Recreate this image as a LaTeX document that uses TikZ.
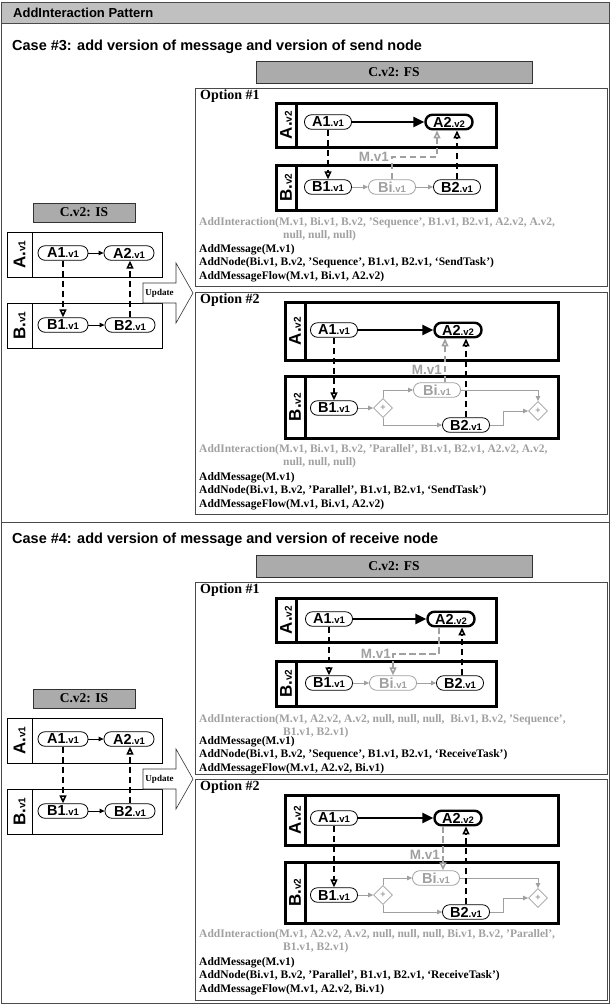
\documentclass[tikz,border=0pt]{standalone}
\usepackage{fontspec}
\setmainfont{Liberation Serif}
\setsansfont{Liberation Sans}
\usetikzlibrary{arrows.meta,positioning,calc,shapes.geometric}
\definecolor{hdrgrey}{HTML}{C0C0C0}
\definecolor{titlegrey}{HTML}{ABABAB}
\definecolor{fggrey}{HTML}{A0A0A0}
\definecolor{rulegrey}{HTML}{4A4A4A}
\tikzset{
  task/.style={draw, rounded corners=7pt, line width=0.8pt, fill=white,
               minimum width=47pt, minimum height=14.5pt, inner sep=0pt,
               font=\sffamily\bfseries\fontsize{14.5}{14.5}\selectfont},
  istask/.style={task, minimum width=50pt},
  newtask/.style={task, line width=2.4pt},
  greytask/.style={task, draw=fggrey, text=fggrey},
  gate/.style={diamond, draw=fggrey, line width=0.8pt, fill=white,
               minimum width=19pt, minimum height=19pt, inner sep=0pt,
               text=fggrey, font=\sffamily\bfseries\small},
  seqflow/.style={-{Triangle[length=5pt,width=4.5pt]}, line width=0.8pt},
  greyseq/.style={seqflow, draw=fggrey},
  bigflow/.style={-{Triangle[length=11pt,width=10pt]}, line width=2.6pt},
  msgflow/.style={-{Triangle[length=8pt,width=7pt,fill=white]},
                  line width=1.6pt, dash pattern=on 6.5pt off 3.5pt},
  greymsg/.style={msgflow, draw=fggrey},
  pool/.style={line width=3pt},
  ispool/.style={line width=0.8pt},
  lanelbl/.style={rotate=90, inner sep=0pt, font=\sffamily\bfseries},
  optbox/.style={draw=rulegrey, line width=0.8pt},
  optlbl/.style={anchor=north west, inner sep=0pt,
                 font=\bfseries\fontsize{14}{14}\selectfont},
  titlebox/.style={draw=black!80, line width=0.8pt, fill=titlegrey,
                   font=\bfseries\fontsize{13.5}{13.5}\selectfont},
  ops/.style={anchor=base west, align=left, inner sep=0pt,
              font=\bfseries\fontsize{11.5}{13.5}\selectfont},
  mlbl/.style={anchor=east, inner sep=0pt, text=fggrey,
               font=\sffamily\bfseries\fontsize{13.5}{13.5}\selectfont},
  casetitle/.style={anchor=west, inner sep=0pt,
                    font=\sffamily\bfseries\fontsize{14.5}{14.5}\selectfont},
  updarrow/.style={draw=black!80, line width=0.6pt, fill=white},
  updlbl/.style={inner sep=0pt, font=\bfseries\fontsize{9}{9}\selectfont},
}
\newcommand{\tv}[2]{#1{\fontsize{9.5}{9.5}\selectfont.#2}}
\newcommand{\lane}[2]{{\fontsize{17}{17}\selectfont #1.}{\fontsize{10}{10}\selectfont #2}}

% initial state, drawn once per case
\newcommand{\ispanel}{%
  \node[titlebox, minimum width=102pt, minimum height=19pt] (is) at (84,212.5) {C.v2: IS};
  \draw[ispool] (7,232) rectangle (162,277) (32,232) -- (32,277);
  \draw[ispool] (7,303) rectangle (162,348) (32,303) -- (32,348);
  \node[lanelbl] (la) at (19.5,254.5) {\lane{A}{v1}};
  \node[lanelbl] (lb) at (19.5,325.5) {\lane{B}{v1}};
  \node[istask] (a1) at (63,253) {\tv{A1}{v1}};
  \node[istask] (a2) at (129,253) {\tv{A2}{v1}};
  \node[istask] (b1) at (63,325) {\tv{B1}{v1}};
  \node[istask] (b2) at (130,325) {\tv{B2}{v1}};
  \draw[seqflow] (a1) -- (a2);
  \draw[seqflow] (b1) -- (b2);
  \draw[msgflow] (a1.south) -- (a1.south |- b1.north);
  \draw[msgflow] (b2.north) -- (b2.north |- a2.south);
  \draw[updarrow] (143,283) -- (176,283) -- (176,263) -- (193,293)
                  -- (176,323) -- (176,303) -- (143,303) -- cycle;
  \node[updlbl] (upd) at (159.5,293) {Update};
}

\begin{document}
\begin{tikzpicture}[x=1pt, y=-1pt]
\useasboundingbox (0,0) rectangle (610,1005);

% ------------------------- frame ----------------------------------------
\fill[hdrgrey] (1,2) rectangle (609,23);
\draw[rulegrey, line width=0.8pt] (1,2) rectangle (609,1003);
\draw[rulegrey, line width=0.8pt] (1,23) -- (609,23);
\draw[rulegrey, line width=0.8pt] (1,522) -- (609,522);
\node[casetitle, font=\sffamily\bfseries\fontsize{13}{13}\selectfont] (pat) at (13,12.5)
   {AddInteraction Pattern};

% ========================= case #3 ======================================
\node[casetitle] (case3) at (12,47) {Case \#3: add version of message and version of send node};
\node[titlebox, minimum width=276pt, minimum height=22pt] (fs3) at (394,72) {C.v2: FS};
\begin{scope}[name prefix=c3-]
\ispanel
\end{scope}

% ------------------------- option #1 ------------------------------------
\draw[optbox] (195,88) rectangle (607,286);
\node[optlbl] (opt31) at (200,89.5) {Option \#1};
\draw[pool] (276,103) rectangle (496,147) (296,103) -- (296,147);
\draw[pool] (276,165) rectangle (496,210) (296,165) -- (296,210);
\node[lanelbl] (la31) at (286,125) {\lane{A}{v2}};
\node[lanelbl] (lb31) at (286,187.5) {\lane{B}{v2}};
\node[task] (a31) at (328,122) {\tv{A1}{v1}};
\node[newtask] (a32) at (449,122) {\tv{A2}{v2}};
\node[task] (b31) at (328,187) {\tv{B1}{v1}};
\node[greytask] (bi3) at (392,187) {\tv{Bi}{v1}};
\node[task] (b32) at (457,187) {\tv{B2}{v1}};
\draw[bigflow] (a31) -- (a32);
\draw[greyseq] (b31) -- (bi3);
\draw[greyseq] (bi3) -- (b32);
\draw[msgflow] (a31) -- (b31);
\draw[msgflow] (b32.north) -- (b32.north |- a32.south);
\coordinate (m31) at (437,157);
\draw[greymsg] (bi3.north) |- (m31) -- (m31 |- a32.south);
\node[mlbl] (ml31) at (389,157) {M.v1};
\node[ops, text=fggrey] (in31) at (199,238.5)
   {AddInteraction(M.v1, Bi.v1, B.v2, 'Sequence', B1.v1, B2.v1, A2.v2, A.v2,\\
    \hspace*{84pt}null, null, null)};
\node[ops] (op31) at (199,279)
   {AddMessage(M.v1)\\
    AddNode(Bi.v1, B.v2, 'Sequence', B1.v1, B2.v1, `SendTask')\\
    AddMessageFlow(M.v1, Bi.v1, A2.v2)};

% ------------------------- option #2 ------------------------------------
\draw[optbox] (195,292) rectangle (607,514);
\node[optlbl] (opt32) at (200,293.5) {Option \#2};
\draw[pool] (285,302) rectangle (558,360) (305,302) -- (305,360);
\draw[pool] (285,376) rectangle (558,438) (305,376) -- (305,438);
\node[lanelbl] (la32) at (295,331) {\lane{A}{v2}};
\node[lanelbl] (lb32) at (295,407) {\lane{B}{v2}};
\node[task] (a33) at (334,330) {\tv{A1}{v1}};
\node[newtask] (a34) at (458,330) {\tv{A2}{v2}};
\node[task] (b33) at (334,408) {\tv{B1}{v1}};
\node[gate] (g31) at (383,408) {+};
\node[greytask] (bi4) at (437,390) {\tv{Bi}{v1}};
\node[task] (b34) at (466,425) {\tv{B2}{v1}};
\node[gate] (g32) at (538,411) {+};
\draw[bigflow] (a33) -- (a34);
\draw[greyseq] (b33) -- (g31);
\draw[greyseq] (g31.north) |- (bi4);
\draw[greyseq] (g31.south) |- (b34);
\draw[greyseq] (bi4) -| (g32.north);
\draw[greyseq] (b34) -| ([xshift=-25pt]g32.west) -- (g32.west);
\draw[msgflow] (a33) -- (b33);
\draw[msgflow] (b34.north) -- (b34.north |- a34.south);
\draw[greymsg] ([xshift=8pt]bi4.north) -- ([xshift=8pt]bi4.north |- a34.south);
\node[mlbl] (ml32) at (442,370) {M.v1};
\node[ops, text=fggrey] (in32) at (199,465.5)
   {AddInteraction(M.v1, Bi.v1, B.v2, 'Parallel', B1.v1, B2.v1, A2.v2, A.v2,\\
    \hspace*{84pt}null, null, null)};
\node[ops] (op32) at (199,507)
   {AddMessage(M.v1)\\
    AddNode(Bi.v1, B.v2, 'Parallel', B1.v1, B2.v1, `SendTask')\\
    AddMessageFlow(M.v1, Bi.v1, A2.v2)};

% ========================= case #4 ======================================
\node[casetitle] (case4) at (12,540) {Case \#4: add version of message and version of receive node};
\node[titlebox, minimum width=276pt, minimum height=22pt] (fs4) at (394,566) {C.v2: FS};
\begin{scope}[shift={(0,486)}, name prefix=c4-]
\ispanel
\end{scope}

% ------------------------- option #1 ------------------------------------
\draw[optbox] (195,582) rectangle (607,774);
\node[optlbl] (opt41) at (200,583.5) {Option \#1};
\draw[pool] (276,598) rectangle (496,642) (296,598) -- (296,642);
\draw[pool] (276,661) rectangle (496,706) (296,661) -- (296,706);
\node[lanelbl] (la41) at (286,620) {\lane{A}{v2}};
\node[lanelbl] (lb41) at (286,683.5) {\lane{B}{v2}};
\node[task] (a41) at (329,619) {\tv{A1}{v1}};
\node[newtask] (a42) at (451,619) {\tv{A2}{v2}};
\node[task] (b41) at (329,683) {\tv{B1}{v1}};
\node[greytask] (bi5) at (393,683) {\tv{Bi}{v1}};
\node[task] (b42) at (460,683) {\tv{B2}{v1}};
\draw[bigflow] (a41) -- (a42);
\draw[greyseq] (b41) -- (bi5);
\draw[greyseq] (bi5) -- (b42);
\draw[msgflow] (a41) -- (b41);
\draw[msgflow] ([xshift=2pt]b42.north) -- ([xshift=2pt]b42.north |- a42.south);
\coordinate (m41) at (393,654);
\draw[greymsg] ([xshift=-12pt]a42.south) |- (m41) -- (bi5.north);
\node[mlbl] (ml41) at (391,654) {M.v1};
\node[ops, text=fggrey] (in41) at (199,735.5)
   {AddInteraction(M.v1, A2.v2, A.v2, null, null, null, \ Bi.v1, B.v2, 'Sequence',\\
    \hspace*{84pt}B1.v1, B2.v1)};
\node[ops] (op41) at (199,771)
   {AddMessage(M.v1)\\
    AddNode(Bi.v1, B.v2, 'Sequence', B1.v1, B2.v1, `ReceiveTask')\\
    AddMessageFlow(M.v1, A2.v2, Bi.v1)};

% ------------------------- option #2 ------------------------------------
\draw[optbox] (195,779) rectangle (607,1000);
\node[optlbl] (opt42) at (200,780.5) {Option \#2};
\draw[pool] (285,795) rectangle (558,845) (305,795) -- (305,845);
\draw[pool] (285,862) rectangle (558,923) (305,862) -- (305,923);
\node[lanelbl] (la42) at (295,820) {\lane{A}{v2}};
\node[lanelbl] (lb42) at (295,892.5) {\lane{B}{v2}};
\node[task] (a43) at (334,818) {\tv{A1}{v1}};
\node[newtask] (a44) at (458,818) {\tv{A2}{v2}};
\node[task] (b43) at (334,895) {\tv{B1}{v1}};
\node[gate] (g41) at (383,895) {+};
\node[greytask] (bi6) at (436,878) {\tv{Bi}{v1}};
\node[task] (b44) at (466,912) {\tv{B2}{v1}};
\node[gate] (g42) at (538,898) {+};
\draw[bigflow] (a43) -- (a44);
\draw[greyseq] (b43) -- (g41);
\draw[greyseq] (g41.north) |- (bi6);
\draw[greyseq] (g41.south) |- (b44);
\draw[greyseq] (bi6) -| (g42.north);
\draw[greyseq] (b44) -| ([xshift=-25pt]g42.west) -- (g42.west);
\draw[msgflow] (a43) -- (b43);
\draw[msgflow] (b44.north) -- (b44.north |- a44.south);
\draw[greymsg] ([xshift=7pt]bi6.north |- a44.south) -- ([xshift=7pt]bi6.north);
\node[mlbl] (ml42) at (440,855) {M.v1};
\node[ops, text=fggrey] (in42) at (199,950.5)
   {AddInteraction(M.v1, A2.v2, A.v2, null, null, null, Bi.v1, B.v2, 'Parallel',\\
    \hspace*{84pt}B1.v1, B2.v1)};
\node[ops] (op42) at (199,992)
   {AddMessage(M.v1)\\
    AddNode(Bi.v1, B.v2, 'Parallel', B1.v1, B2.v1, `ReceiveTask')\\
    AddMessageFlow(M.v1, A2.v2, Bi.v1)};
\end{tikzpicture}
\end{document}
